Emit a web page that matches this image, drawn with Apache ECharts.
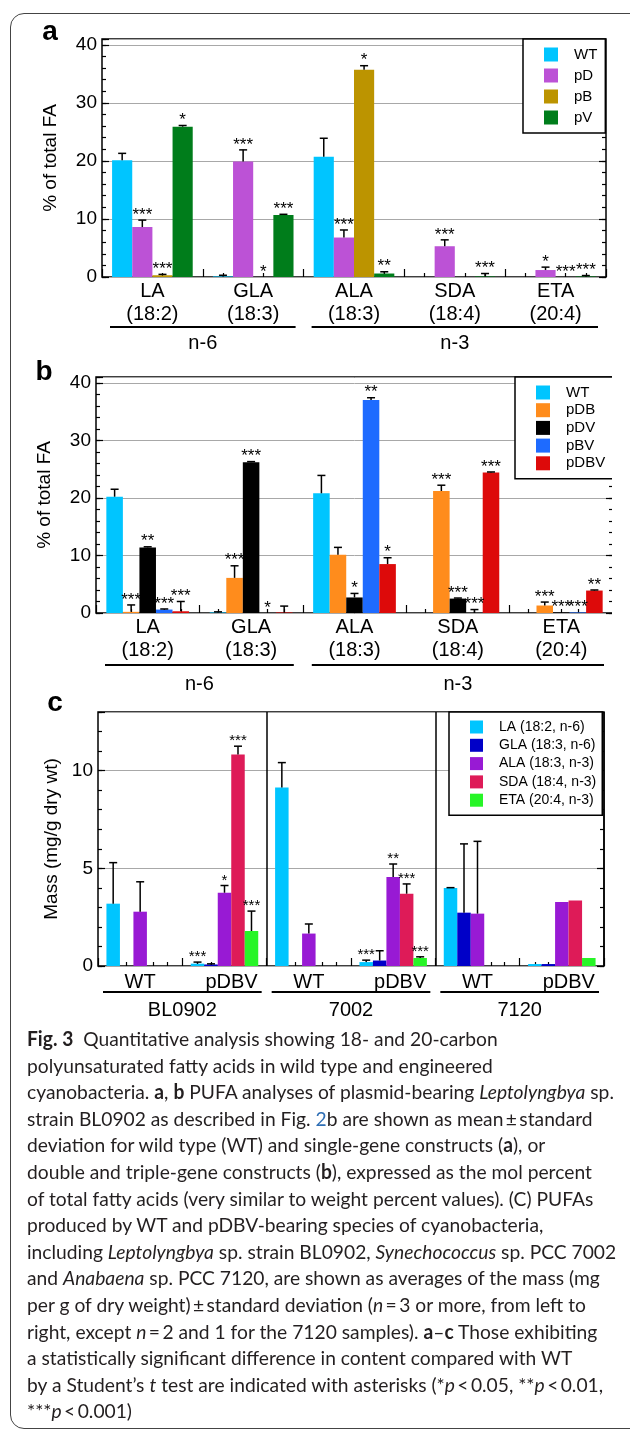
<!DOCTYPE html>
<html>
<head>
<meta charset="utf-8">
<script src="https://cdn.jsdelivr.net/npm/echarts@6/dist/echarts.min.js"></script>
<style>
  html, body { margin: 0; padding: 0; background: #fff; }
  body { width: 630px; height: 1430px; position: relative; overflow: hidden; }
  #frame { position: absolute; left: 10px; top: 13px; width: 660px; height: 1416px;
           border: 1.3px solid #444; border-radius: 14px; box-sizing: border-box; }
  #chart { position: absolute; left: 0; top: 0; width: 630px; height: 1030px; }
  #caption { position: absolute; left: 27px; top: 1025px; font-family: Lato, "Noto Sans", sans-serif;
             font-size: 20px; line-height: 26.6px; color: #231f20; white-space: nowrap; transform-origin: 0 0; }
  #caption .ref { color: #2f6fb5; }
</style>
</head>
<body>
<div id="frame"></div>
<div id="chart"></div>
<div id="caption">
  <div><b>Fig. 3</b>&nbsp; Quantitative analysis showing 18- and 20-carbon</div>
  <div>polyunsaturated fatty acids in wild type and engineered</div>
  <div>cyanobacteria. <b>a</b>, <b>b</b> PUFA analyses of plasmid-bearing <i>Leptolyngbya</i> sp.</div>
  <div>strain BL0902 as described in Fig. <span class="ref">2</span>b are shown as mean&thinsp;±&thinsp;standard</div>
  <div>deviation for wild type (WT) and single-gene constructs (<b>a</b>), or</div>
  <div>double and triple-gene constructs (<b>b</b>), expressed as the mol percent</div>
  <div>of total fatty acids (very similar to weight percent values). (C) PUFAs</div>
  <div>produced by WT and pDBV-bearing species of cyanobacteria,</div>
  <div>including <i>Leptolyngbya</i> sp. strain BL0902, <i>Synechococcus</i> sp. PCC 7002</div>
  <div>and <i>Anabaena</i> sp. PCC 7120, are shown as averages of the mass (mg</div>
  <div>per g of dry weight)&thinsp;±&thinsp;standard deviation (<i>n</i>&thinsp;=&thinsp;3 or more, from left to</div>
  <div>right, except <i>n</i>&thinsp;=&thinsp;2 and 1 for the 7120 samples). <b>a</b>–<b>c</b> Those exhibiting</div>
  <div>a statistically significant difference in content compared with WT</div>
  <div>by a Student’s <i>t</i> test are indicated with asterisks (*<i>p</i>&thinsp;&lt;&thinsp;0.05, **<i>p</i>&thinsp;&lt;&thinsp;0.01,</div>
  <div>***<i>p</i>&thinsp;&lt;&thinsp;0.001)</div>
</div>
<script>
// ---- data ----
// panels a, b: fatty acids on the x axis
const acids = ['LA', 'GLA', 'ALA', 'SDA', 'ETA'];
const chains = ['(18:2)', '(18:3)', '(18:3)', '(18:4)', '(20:4)'];
const acidFamilies = [{ name: 'n-6', from: 0, to: 1 }, { name: 'n-3', from: 2, to: 4 }];

// panel a: % of total FA, mean, sd, significance
const aWT = [20.1, 0.1, 20.7, 0, 0];
const aWTsd = [1.2, 0.2, 3.2, 0, 0];
const aWTsig = ['', '', '', '', ''];
const aPD = [8.6, 19.9, 6.8, 5.3, 1.2];
const aPDsd = [1.2, 2.0, 1.3, 1.1, 0.5];
const aPDsig = ['***', '***', '***', '***', '*'];
const aPB = [0.3, 0, 35.7, 0, 0];
const aPBsd = [0.15, 0, 0.7, 0, 0];
const aPBsig = ['***', '*', '*', '', '***'];
const aPV = [25.9, 10.7, 0.6, 0.1, 0.1];
const aPVsd = [0.2, 0.1, 0.3, 0.5, 0.15];
const aPVsig = ['*', '***', '**', '***', '***'];

// panel b
const bWT = [20.2, 0.1, 20.8, 0, 0];
const bWTsd = [1.3, 0.1, 3.1, 0, 0];
const bWTsig = ['', '', '', '', ''];
const bPDB = [0.2, 6.1, 10.1, 21.2, 1.3];
const bPDBsd = [1.2, 2.1, 1.3, 1.0, 0.6];
const bPDBsig = ['***', '***', '', '***', '***'];
const bPDV = [11.4, 26.2, 2.7, 2.5, 0.1];
const bPDVsd = [0.1, 0.1, 0.7, 0.1, 0];
const bPDVsig = ['**', '***', '*', '***', '***'];
const bPBV = [0.6, 0, 37.0, 0, 0.1];
const bPBVsd = [0.1, 0, 0.4, 0.6, 0];
const bPBVsig = ['***', '*', '**', '***', '***'];
const bPDBV = [0.3, 0.1, 8.5, 24.4, 3.9];
const bPDBVsd = [1.7, 1.1, 1.1, 0.1, 0.1];
const bPDBVsig = ['***', '', '*', '***', '**'];

// panel c: mass (mg/g dry wt) per strain and construct
const strains = ['BL0902', '7002', '7120'];
const constructs = ['WT', 'pDBV'];
const cLA = [3.19, 0.12, 9.13, 0.2, 3.99, 0.1];
const cLAsd = [2.1, 0.08, 1.28, 0.1, 0.02, 0];
const cLAsig = ['', '***', '', '***', '', ''];
const cGLA = [0, 0.08, 0, 0.28, 2.73, 0.1];
const cGLAsd = [0, 0.03, 0, 0.5, 3.52, 0];
const cGLAsig = ['', '', '', '', '', ''];
const cALA = [2.78, 3.75, 1.66, 4.55, 2.68, 3.28];
const cALAsd = [1.53, 0.37, 0.49, 0.67, 3.7, 0];
const cALAsig = ['', '*', '', '**', '', ''];
const cSDA = [0, 10.82, 0, 3.7, 0, 3.35];
const cSDAsd = [0, 0.43, 0, 0.5, 0, 0];
const cSDAsig = ['', '***', '', '***', '', ''];
const cETA = [0, 1.79, 0, 0.41, 0, 0.41];
const cETAsd = [0, 1.02, 0, 0.06, 0, 0];
const cETAsig = ['', '***', '', '***', '', ''];

// ---- helpers ----
const FONT = '"Liberation Sans", Arial, Helvetica, sans-serif';
const tickLine = { color: '#000', width: 1.2 };

const acidCats = acids.map((a, i) => a + '\n' + chains[i]);
const strainCats = [];
strains.forEach(s => constructs.forEach(c => strainCats.push(s + ' ' + c)));

// short ticks under every bar centre (hidden category axis with fine steps)
function barTickAxis(g, nCat, nBar) {
  const sub = 50;
  const marks = [];
  for (let i = 0; i < nBar; i++) marks.push(Math.round((0.1 + 0.8 * (i + 0.5) / nBar) * sub));
  return {
    type: 'category', gridIndex: g, position: 'bottom', boundaryGap: false,
    data: Array.from({ length: nCat * sub + 1 }, (_, k) => 't' + k),
    axisLine: { show: false }, axisLabel: { show: false }, splitLine: { show: false },
    axisTick: { show: true, inside: true, length: 4, lineStyle: tickLine,
                interval: idx => marks.includes(idx % sub) }
  };
}

function catAxis(g, data, extra) {
  return Object.assign({
    type: 'category', gridIndex: g, position: 'bottom', data,
    axisLine: { show: false },
    axisTick: { show: true, inside: true, length: 8, lineStyle: tickLine },
    axisLabel: { color: '#000', fontSize: 20, lineHeight: 23, margin: 3, interval: 0, fontFamily: FONT },
    splitLine: { show: false }
  }, extra || {});
}

function yAxes(g, max, major, minor, name, gap) {
  const base = { type: 'value', gridIndex: g, min: 0, max,
                 axisLine: { show: false }, splitLine: { show: false }, axisLabel: { show: false } };
  return [
    Object.assign({}, base, {
      position: 'left', interval: major,
      name, nameLocation: 'middle', nameGap: gap,
      nameTextStyle: { fontSize: 19, color: '#000', fontFamily: FONT },
      axisTick: { show: true, inside: true, length: 7, lineStyle: tickLine },
      axisLabel: { show: true, fontSize: 19, color: '#000', margin: 5, fontFamily: FONT,
                   formatter: v => (v % major === 0 ? String(v) : '') },
      splitLine: { show: true, lineStyle: { color: '#a8a8a8', width: 1 } }
    }),
    Object.assign({}, base, { position: 'left', interval: minor,
      axisTick: { show: true, inside: true, length: 4, lineStyle: tickLine } }),
    Object.assign({}, base, { position: 'right', interval: major,
      axisTick: { show: true, inside: true, length: 7, lineStyle: tickLine } }),
    Object.assign({}, base, { position: 'right', interval: minor,
      axisTick: { show: true, inside: true, length: 4, lineStyle: tickLine } })
  ];
}

function bar(name, x, y, data, color) {
  return { type: 'bar', name, xAxisIndex: x, yAxisIndex: y, data,
           barGap: '0%', barCategoryGap: '20%', itemStyle: { color }, z: 2, silent: true };
}

// upper error bar + significance stars, placed on the bar's slot in its group
function errBar(x, y, vals, sds, sigs, slot, nSlots, starSize) {
  return {
    type: 'custom', xAxisIndex: x, yAxisIndex: y, z: 4, silent: true,
    data: vals.map((v, i) => [i, v, sds[i]]),
    renderItem: (params, api) => {
      const i = api.value(0), v = api.value(1), e = api.value(2);
      const bw = api.size([1, 0])[0] * 0.8 / nSlots;
      const px = api.coord([i, v])[0] + (slot - (nSlots - 1) / 2) * bw;
      const yBar = api.coord([i, v])[1];
      const yTop = api.coord([i, v + e])[1];
      const children = [];
      if (e > 0) {
        children.push({ type: 'line', shape: { x1: px, y1: yBar, x2: px, y2: yTop },
                        style: { stroke: '#000', lineWidth: 1.5 } });
        children.push({ type: 'line', shape: { x1: px - 4, y1: yTop, x2: px + 4, y2: yTop },
                        style: { stroke: '#000', lineWidth: 1.5 } });
      }
      const s = sigs[params.dataIndex];
      if (s) {
        children.push({ type: 'text', x: px, y: yTop - 5,
          style: { text: s, fill: '#000', font: starSize + 'px ' + FONT,
                   textAlign: 'center', textVerticalAlign: 'middle', align: 'center', verticalAlign: 'middle' } });
      }
      return { type: 'group', children };
    }
  };
}

function legend(names, left, top, iconSize, gap, fontSize, padRight) {
  return {
    data: names, left, top, orient: 'vertical', icon: 'rect', selectedMode: false,
    itemWidth: iconSize, itemHeight: iconSize, itemGap: gap,
    padding: [8, padRight, 8, 21],
    borderColor: '#000', borderWidth: 1.5, backgroundColor: '#fff',
    textStyle: { fontSize, color: '#000', fontFamily: FONT, lineHeight: iconSize, padding: [0, 0, 0, 11] }
  };
}

const colors = {
  WT: '#00C5FF', pD: '#BC52D6', pB: '#BC9400', pV: '#007D1B',
  pDB: '#FF8C1C', pDV: '#000000', pBV: '#1E6BFF', pDBV: '#DD0A0A',
  LA: '#00C5FF', GLA: '#0000C8', ALA: '#981AD4', SDA: '#DE1B58', ETA: '#27F527'
};

const chart = echarts.init(document.getElementById('chart'), null, { renderer: 'canvas' });

const gridBox = { show: true, borderColor: '#000', borderWidth: 1.5, outerBoundsMode: 'none', containLabel: false };

const option = {
  animation: false,
  textStyle: { fontFamily: FONT },
  grid: [
    Object.assign({ left: 102, top: 39, width: 504, height: 238 }, gridBox),
    Object.assign({ left: 96, top: 377, width: 517, height: 236 }, gridBox),
    Object.assign({ left: 98, top: 712, width: 506, height: 254 }, gridBox)
  ],
  xAxis: [
    catAxis(0, acidCats), barTickAxis(0, 5, 4),
    catAxis(1, acidCats), barTickAxis(1, 5, 5),
    catAxis(2, strainCats, {
      axisLabel: { color: '#000', fontSize: 20, margin: 6, interval: 0, fontFamily: FONT,
                   formatter: v => { const c = v.split(' ')[1]; return c === 'pDBV' ? '{s|' + c + '}' : c; },
                   rich: { s: { fontSize: 20, color: '#000', fontFamily: FONT, padding: [0, 0, 0, 14] } } },
      splitLine: { show: true, interval: i => i === 2 || i === 4, lineStyle: { color: '#000', width: 1.5 } }
    }),
    barTickAxis(2, 6, 5)
  ],
  yAxis: [].concat(
    yAxes(0, 41, 10, 2, '% of total FA', 42),
    yAxes(1, 41, 10, 2, '% of total FA', 42),
    yAxes(2, 13, 5, 1, 'Mass (mg/g dry wt)', 33)
  ),
  legend: [
    legend(['WT', 'pD', 'pB', 'pV'], 523, 39, 14, 6, 15, 8),
    legend(['WT', 'pDB', 'pDV', 'pBV', 'pDBV'], 515, 377, 14, 2.7, 15, 30),
    legend(['LA (18:2, n-6)', 'GLA (18:3, n-6)', 'ALA (18:3, n-3)', 'SDA (18:4, n-3)', 'ETA (20:4, n-3)'],
           449, 712, 13, 4.3, 14, 6)
  ],
  series: [
    bar('WT', 0, 0, aWT, colors.WT), bar('pD', 0, 0, aPD, colors.pD),
    bar('pB', 0, 0, aPB, colors.pB), bar('pV', 0, 0, aPV, colors.pV),
    errBar(0, 0, aWT, aWTsd, aWTsig, 0, 4, 17), errBar(0, 0, aPD, aPDsd, aPDsig, 1, 4, 17),
    errBar(0, 0, aPB, aPBsd, aPBsig, 2, 4, 17), errBar(0, 0, aPV, aPVsd, aPVsig, 3, 4, 17),

    bar('WT', 2, 4, bWT, colors.WT), bar('pDB', 2, 4, bPDB, colors.pDB),
    bar('pDV', 2, 4, bPDV, colors.pDV), bar('pBV', 2, 4, bPBV, colors.pBV),
    bar('pDBV', 2, 4, bPDBV, colors.pDBV),
    errBar(2, 4, bWT, bWTsd, bWTsig, 0, 5, 17), errBar(2, 4, bPDB, bPDBsd, bPDBsig, 1, 5, 17),
    errBar(2, 4, bPDV, bPDVsd, bPDVsig, 2, 5, 17), errBar(2, 4, bPBV, bPBVsd, bPBVsig, 3, 5, 17),
    errBar(2, 4, bPDBV, bPDBVsd, bPDBVsig, 4, 5, 17),

    bar('LA (18:2, n-6)', 4, 8, cLA, colors.LA), bar('GLA (18:3, n-6)', 4, 8, cGLA, colors.GLA),
    bar('ALA (18:3, n-3)', 4, 8, cALA, colors.ALA), bar('SDA (18:4, n-3)', 4, 8, cSDA, colors.SDA),
    bar('ETA (20:4, n-3)', 4, 8, cETA, colors.ETA),
    errBar(4, 8, cLA, cLAsd, cLAsig, 0, 5, 15), errBar(4, 8, cGLA, cGLAsd, cGLAsig, 1, 5, 15),
    errBar(4, 8, cALA, cALAsd, cALAsig, 2, 5, 15), errBar(4, 8, cSDA, cSDAsd, cSDAsig, 3, 5, 15),
    errBar(4, 8, cETA, cETAsd, cETAsig, 4, 5, 15)
  ]
};
chart.setOption(option);

// group underlines and their labels, placed from the category axis
function groupMarks(xAxisIndex, groups, inset, lineY, textY) {
  const c0 = chart.convertToPixel({ xAxisIndex }, 0);
  const band = chart.convertToPixel({ xAxisIndex }, 1) - c0;
  const out = [];
  groups.forEach(g => {
    const x0 = chart.convertToPixel({ xAxisIndex }, g.from) - band / 2 + inset;
    const x1 = chart.convertToPixel({ xAxisIndex }, g.to) + band / 2 - inset;
    out.push({ type: 'line', shape: { x1: x0, y1: lineY, x2: x1, y2: lineY },
               style: { stroke: '#000', lineWidth: 2 }, silent: true });
    out.push({ type: 'text', x: (x0 + x1) / 2, y: textY, silent: true,
               style: { text: g.name, fill: '#000', font: '20px ' + FONT,
                        textAlign: 'center', textVerticalAlign: 'middle', align: 'center', verticalAlign: 'middle' } });
  });
  return out;
}
const strainGroups = strains.map((s, i) => ({ name: s, from: i * 2, to: i * 2 + 1 }));

function panelLetter(t, x, y) {
  return { type: 'text', x, y, silent: true,
           style: { text: t, fill: '#000', font: 'bold 28px ' + FONT,
                    textAlign: 'center', textVerticalAlign: 'middle', align: 'center', verticalAlign: 'middle' } };
}

chart.setOption({
  graphic: [
    // panel b is cut at its right edge in the original figure
    { type: 'rect', shape: { x: 612, y: 360, width: 30, height: 265 }, style: { fill: '#fff' }, z: 100, silent: true },
    panelLetter('a', 50, 32), panelLetter('b', 44, 372), panelLetter('c', 55, 703)
  ].concat(
    groupMarks(0, acidFamilies, 8, 327, 343),
    groupMarks(2, acidFamilies, 9, 665, 684),
    groupMarks(4, strainGroups, 5, 992, 1010)
  )
});

// fit caption lines to the original column width
const cap = document.getElementById('caption');
const refLine = cap.children[2];
const k = 589 / refLine.getBoundingClientRect().width;
cap.style.transform = 'scaleX(' + k.toFixed(3) + ')';
</script>
</body>
</html>
